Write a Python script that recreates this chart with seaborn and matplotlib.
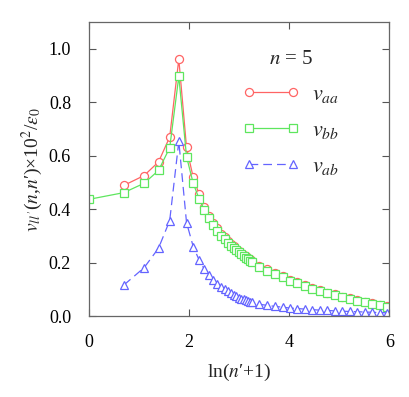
import numpy as np
import pandas as pd
import matplotlib
matplotlib.use("Agg")
import matplotlib.pyplot as plt
import seaborn as sns

# --- data: n'+1 values and interaction values ---
k_aa = [2, 3, 4, 5, 6, 7, 8, 9, 10, 11, 12, 13, 14, 15, 16, 17, 18, 19, 20, 21, 22, 23, 24, 25, 26,
        30, 35, 41, 48, 55, 64, 74, 86, 100, 117, 136, 158, 183, 213, 247, 287, 334, 388]
v_aa = [0.489, 0.526, 0.577, 0.670, 0.962, 0.631, 0.519, 0.456, 0.410, 0.373, 0.350, 0.328, 0.308,
        0.294, 0.282, 0.271, 0.261, 0.252, 0.244, 0.237, 0.230, 0.224, 0.218, 0.212, 0.207,
        0.188, 0.175, 0.161, 0.149, 0.136, 0.126, 0.116, 0.106, 0.097, 0.088, 0.081, 0.073,
        0.066, 0.060, 0.054, 0.048, 0.042, 0.037]

k_bb = [1] + k_aa
v_bb = [0.437, 0.462, 0.497, 0.545, 0.630, 0.897, 0.597, 0.497, 0.439, 0.397, 0.367, 0.340, 0.319,
        0.300, 0.287, 0.275, 0.264, 0.255, 0.246, 0.238, 0.231, 0.224, 0.218, 0.212, 0.206, 0.201,
        0.183, 0.170, 0.156, 0.145, 0.132, 0.122, 0.112, 0.102, 0.094, 0.085, 0.078, 0.070,
        0.064, 0.057, 0.052, 0.046, 0.040, 0.035]

k_ab = k_aa
v_ab = [0.116, 0.181, 0.254, 0.357, 0.654, 0.350, 0.260, 0.210, 0.175, 0.153, 0.135, 0.121, 0.110,
        0.100, 0.092, 0.085, 0.079, 0.074, 0.069, 0.065, 0.062, 0.059, 0.056, 0.054, 0.052,
        0.044, 0.040, 0.036, 0.033, 0.030, 0.028, 0.026, 0.024, 0.022, 0.021, 0.019, 0.018,
        0.017, 0.016, 0.015, 0.014, 0.013, 0.012]

sns.set_style("ticks")
plt.rcParams["font.family"] = ["Liberation Serif", "DejaVu Serif"]
plt.rcParams["mathtext.fontset"] = "stix"

fig = plt.figure(figsize=(4.09, 3.97), dpi=100)
ax = fig.add_axes([0.218, 0.204, 0.734, 0.740])

series = [
    (k_aa, v_aa, r"$v_{aa}$", "#ff6464", "o", "-"),
    (k_bb, v_bb, r"$v_{bb}$", "#5ee65e", "s", "-"),
    (k_ab, v_ab, r"$v_{ab}$", "#6464ff", "^", (0, (7, 4))),
]
for k, v, lab, col, mk, ls in series:
    df = pd.DataFrame({"x": np.log(np.array(k, dtype=float)), "y": v})
    sns.lineplot(data=df, x="x", y="y", ax=ax, sort=False, color=col, lw=0.9,
                 linestyle=ls, marker=mk, markersize=5.8, markerfacecolor="white",
                 markeredgecolor=col, markeredgewidth=0.9, label=lab)

ax.set_xlim(0, 6)
ax.set_ylim(0, 1.1)
ax.set_xticks([0, 2, 4, 6])
ax.set_yticks([0, 0.2, 0.4, 0.6, 0.8, 1.0])
ax.set_yticklabels(["0.0", "0.2", "0.4", "0.6", "0.8", "1.0"])
ax.tick_params(direction="in", top=True, right=True, labelsize=13, length=5, width=0.8,
               colors="#555555", labelcolor="black", pad=13)
for s in ax.spines.values():
    s.set_color("#666666")
    s.set_linewidth(0.9)

ax.set_xlabel("ln($n$′+1)", fontsize=14, labelpad=8)
ax.set_ylabel(r"$v_{ll'}$($n$,$n$′)×10$^2$/$\varepsilon_0$", fontsize=14, labelpad=3)

leg = ax.legend(title=r"$n$ = 5", loc="upper right", bbox_to_anchor=(0.90, 0.975),
                frameon=False, numpoints=2, fontsize=16, title_fontsize=15,
                handlelength=2.6, labelspacing=0.7, handletextpad=0.55)
fig.savefig("out.png", dpi=100)
